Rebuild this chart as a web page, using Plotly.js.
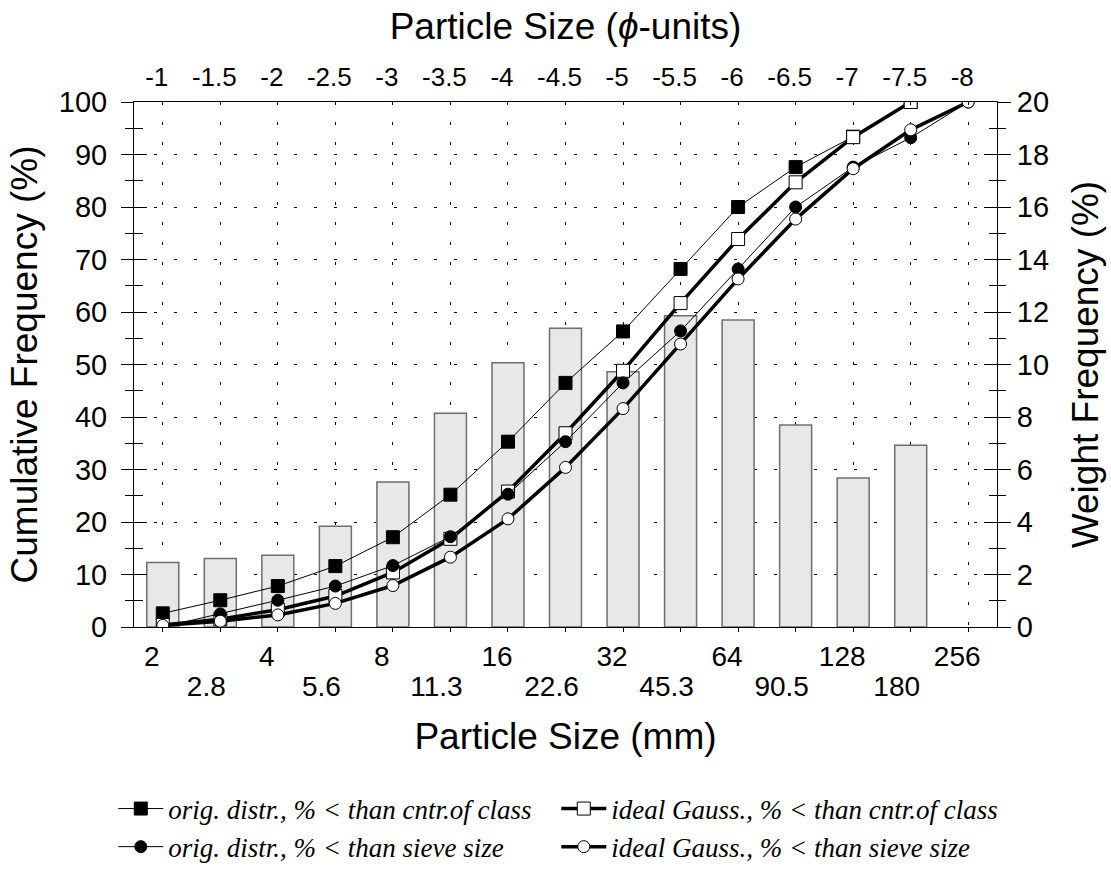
<!DOCTYPE html>
<html>
<head>
<meta charset="utf-8">
<script src="https://cdn.plot.ly/plotly-3.0.1.min.js"></script>
<style>html,body{margin:0;padding:0;background:#fff;}#chart{width:1111px;height:874px;}</style>
</head>
<body>
<div id="chart"></div>
<script>
// ---- data ----
var phiClass = [-1, -1.5, -2, -2.5, -3, -3.5, -4, -4.5, -5, -5.5, -6, -6.5, -7, -7.5];
var phiSieve = [-1, -1.5, -2, -2.5, -3, -3.5, -4, -4.5, -5, -5.5, -6, -6.5, -7, -7.5, -8];
var weightFreq = [2.46, 2.61, 2.73, 3.84, 5.52, 8.14, 10.07, 11.38, 9.72, 11.86, 11.70, 7.70, 5.68, 6.92];
var origCenter = [2.6, 5.1, 7.8, 11.6, 17.1, 25.2, 35.3, 46.5, 56.3, 68.2, 80.0, 87.6, 93.4, 100];
var idealCenter = [0.4, 1.5, 3.3, 5.9, 10.4, 16.8, 25.8, 36.9, 48.8, 61.7, 73.9, 84.7, 93.3, 100];
var origSieve = [0, 2.5, 5.1, 7.8, 11.7, 17.2, 25.3, 35.3, 46.5, 56.4, 68.2, 80.0, 87.6, 93.2, 100];
var idealSieve = [0.3, 1.1, 2.3, 4.5, 7.9, 13.3, 20.6, 30.4, 41.6, 53.9, 66.3, 77.7, 87.3, 94.7, 100];

var phiTopTicks = [-1, -1.5, -2, -2.5, -3, -3.5, -4, -4.5, -5, -5.5, -6, -6.5, -7, -7.5, -8];
var phiTopText = ['-1', '-1.5', '-2', '-2.5', '-3', '-3.5', '-4', '-4.5', '-5', '-5.5', '-6', '-6.5', '-7', '-7.5', '-8'];
var mmRow1Ticks = [-1, -2, -3, -4, -5, -6, -7, -8];
var mmRow1Text = ['2', '4', '8', '16', '32', '64', '128', '256'];
var mmRow2Ticks = [-1.5, -2.5, -3.5, -4.5, -5.5, -6.5, -7.5];
var mmRow2Text = ['2.8', '5.6', '11.3', '22.6', '45.3', '90.5', '180'];

var legendNames = [
  'orig. distr., % &lt; than cntr.of class',
  'ideal Gauss., % &lt; than cntr.of class',
  'orig. distr., % &lt; than sieve size',
  'ideal Gauss., % &lt; than sieve size'
];

// ---- styling ----
var SANS = 'Liberation Sans, Arial, sans-serif';
var SERIF = 'Liberation Serif, Times New Roman, serif';
var XR = [-0.75, -8.25];
var GRIDDASH = '3px,17px';
var TITLE_SIZE = 37;

function axisHolder(xa, ya) {
  // empty holder so that the overlaid tick-only axes get drawn
  return {type: 'scatter', mode: 'markers', x: [phiTopTicks[0]], y: [null],
          xaxis: xa, yaxis: ya, showlegend: false, hoverinfo: 'skip'};
}

var traces = [
  {
    type: 'bar', x: phiClass, y: weightFreq, xaxis: 'x', yaxis: 'y',
    width: 0.278, marker: {color: '#e8e8e8', line: {color: '#6e6e6e', width: 1.5}},
    showlegend: false, hoverinfo: 'skip'
  },
  {
    type: 'scatter', mode: 'lines+markers', name: legendNames[0],
    x: phiClass, y: origCenter, xaxis: 'x', yaxis: 'y2',
    line: {color: '#000', width: 1},
    marker: {symbol: 'square', size: 13, color: '#000', line: {color: '#000', width: 1}}
  },
  {
    type: 'scatter', mode: 'lines+markers', name: legendNames[1],
    x: phiClass, y: idealCenter, xaxis: 'x', yaxis: 'y2',
    line: {color: '#000', width: 3.5},
    marker: {symbol: 'square', size: 13, color: '#fff', line: {color: '#000', width: 1}}
  },
  {
    type: 'scatter', mode: 'lines+markers', name: legendNames[2],
    x: phiSieve, y: origSieve, xaxis: 'x', yaxis: 'y2',
    line: {color: '#000', width: 1},
    marker: {symbol: 'circle', size: 12, color: '#000', line: {color: '#000', width: 1}}
  },
  {
    type: 'scatter', mode: 'lines+markers', name: legendNames[3],
    x: phiSieve, y: idealSieve, xaxis: 'x', yaxis: 'y2',
    line: {color: '#000', width: 3.5},
    marker: {symbol: 'circle', size: 12, color: '#fff', line: {color: '#000', width: 1}}
  },
  axisHolder('x2', 'y'),
  axisHolder('x3', 'y'),
  axisHolder('x', 'y3'),
  axisHolder('x', 'y4')
];

var layout = {
  width: 1111, height: 874,
  paper_bgcolor: '#fff', plot_bgcolor: '#fff',
  margin: {l: 134, r: 114, t: 102, b: 247, autoexpand: false},
  showlegend: true,
  bargap: 0,
  font: {family: SANS, color: '#000'},
  xaxis: {
    range: XR, autorange: false, domain: [0, 1], anchor: 'y',
    tickmode: 'array', tickvals: mmRow1Ticks, ticktext: mmRow1Text,
    ticks: 'outside', ticklen: 4, tickcolor: '#000', tickwidth: 1,
    ticklabelshift: 11, ticklabelstandoff: 0,
    tickfont: {family: SANS, size: 28, color: '#000'},
    showline: true, linecolor: '#000', linewidth: 1,
    showgrid: false, zeroline: false,
    title: {text: 'Particle Size (mm)', font: {family: SANS, size: TITLE_SIZE, color: '#000'}, standoff: 52}
  },
  xaxis3: {
    range: XR, autorange: false, overlaying: 'x', side: 'bottom', anchor: 'y',
    tickmode: 'array', tickvals: mmRow2Ticks, ticktext: mmRow2Text,
    ticks: 'outside', ticklen: 4, tickcolor: '#000', tickwidth: 1,
    ticklabelshift: 14, ticklabelstandoff: 30,
    tickfont: {family: SANS, size: 28, color: '#000'},
    showline: false, showgrid: false, zeroline: false
  },
  xaxis2: {
    range: XR, autorange: false, overlaying: 'x', side: 'top', anchor: 'y',
    tickmode: 'array', tickvals: phiTopTicks, ticktext: phiTopText,
    ticks: 'inside', ticklen: 3, tickcolor: '#000', tickwidth: 1,
    ticklabelshift: 6, ticklabelstandoff: 5,
    tickfont: {family: SANS, size: 26, color: '#000'},
    showline: true, linecolor: '#000', linewidth: 1,
    showgrid: true, gridcolor: '#000', gridwidth: 1, griddash: GRIDDASH,
    zeroline: false,
    title: {text: 'Particle Size (<i>\u03D5</i>-units)', font: {family: SANS, size: TITLE_SIZE, color: '#000'}, standoff: 10}
  },
  yaxis: {
    range: [0, 20], autorange: false, side: 'right', anchor: 'x',
    tickmode: 'linear', tick0: 0, dtick: 2,
    ticks: 'outside', ticklen: 13, tickcolor: '#000', tickwidth: 1,
    minor: {dtick: 1, tick0: 0, ticks: 'outside', ticklen: 8, tickcolor: '#000', tickwidth: 1, showgrid: false},
    ticklabelstandoff: 0,
    tickfont: {family: SANS, size: 29, color: '#000'},
    showline: true, linecolor: '#000', linewidth: 1,
    showgrid: true, gridcolor: '#000', gridwidth: 1, griddash: GRIDDASH,
    zeroline: false,
    title: {text: 'Weight Frequency (%)', font: {family: SANS, size: TITLE_SIZE, color: '#000'}, standoff: 24}
  },
  yaxis2: {
    range: [0, 100], autorange: false, overlaying: 'y', side: 'left', anchor: 'x',
    tickmode: 'linear', tick0: 0, dtick: 10,
    ticks: 'outside', ticklen: 12, tickcolor: '#000', tickwidth: 1,
    minor: {dtick: 5, tick0: 0, ticks: 'outside', ticklen: 8, tickcolor: '#000', tickwidth: 1, showgrid: false},
    ticklabelstandoff: 8,
    tickfont: {family: SANS, size: 29, color: '#000'},
    showline: true, linecolor: '#000', linewidth: 1,
    showgrid: false, zeroline: false,
    title: {text: 'Cumulative Frequency (%)', font: {family: SANS, size: TITLE_SIZE, color: '#000'}, standoff: 9}
  },
  yaxis3: {
    range: [0, 100], autorange: false, overlaying: 'y', side: 'left', anchor: 'x',
    tickmode: 'linear', tick0: 0, dtick: 10,
    ticks: 'inside', ticklen: 13, tickcolor: '#000', tickwidth: 1,
    minor: {dtick: 5, tick0: 0, ticks: 'inside', ticklen: 9, tickcolor: '#000', tickwidth: 1, showgrid: false},
    showticklabels: false, showline: false, showgrid: false, zeroline: false
  },
  yaxis4: {
    range: [0, 20], autorange: false, overlaying: 'y', side: 'right', anchor: 'x',
    tickmode: 'linear', tick0: 0, dtick: 2,
    ticks: 'inside', ticklen: 13, tickcolor: '#000', tickwidth: 1,
    minor: {dtick: 1, tick0: 0, ticks: 'inside', ticklen: 8, tickcolor: '#000', tickwidth: 1, showgrid: false},
    showticklabels: false, showline: false, showgrid: false, zeroline: false
  },
  legend: {
    orientation: 'h', x: -0.024, xanchor: 'left', y: -0.30, yanchor: 'top',
    entrywidth: 383, entrywidthmode: 'pixels', itemwidth: 45,
    font: {family: SERIF, size: 27, color: '#000', style: 'italic'},
    bgcolor: 'rgba(0,0,0,0)', traceorder: 'normal'
  }
};

Plotly.newPlot('chart', traces, layout, {displayModeBar: false, staticPlot: true});
</script>
</body>
</html>
